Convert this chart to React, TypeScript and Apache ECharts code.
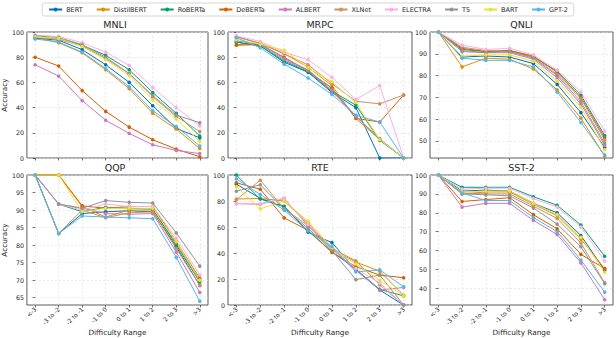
import React, { useEffect, useRef } from "react";
import * as echarts from "echarts";

const categories = ["<-3", "-3 to -2", "-2 to -1", "-1 to 0", "0 to 1", "1 to 2", "2 to 3", ">3"];
const models = ["BERT", "DistilBERT", "RoBERTa", "DeBERTa", "ALBERT", "XLNet", "ELECTRA", "T5", "BART", "GPT-2"];
const colors = ["#0173b2", "#de8f05", "#029e73", "#d55e00", "#cc78bc", "#ca9161", "#fbafe4", "#949494", "#ece133", "#56b4e9"];

// rows follow the order of `models`
const mnli = [
  [95, 93.5, 86, 74, 60, 41.5, 23.5, 16],
  [96, 91.5, 83.5, 70, 55, 35.5, 23, 7.5],
  [95.5, 95, 89.5, 81.5, 70, 52, 35.5, 17.5],
  [80, 73, 53.5, 37, 24.5, 14.5, 7, 1],
  [74, 65, 45.5, 30, 19.5, 10.5, 6, 3.5],
  [96, 94, 89, 79, 67, 48.5, 33, 21],
  [97.5, 96.5, 91.5, 84, 73.5, 56, 40, 25.5],
  [97, 95.5, 90, 80, 67, 49.5, 34, 28],
  [96, 95, 88.5, 78, 65.5, 46, 31, 13],
  [94.5, 92, 84, 71, 56.5, 37.5, 25, 9.5],
];
const mrpc = [
  [92, 89, 76, 68, 52, 40, 0, 0],
  [90, 91, 83, 72, 57.5, 31.5, 14.5, 0],
  [92, 89, 77, 68.5, 53, 42, 14, 0],
  [89.5, 90, 80, 69, 55.5, 31.5, 28.5, 50],
  [96, 91, 79, 70, 54, 33, 15, 0],
  [96.5, 91, 82.5, 74, 59, 45, 43, 50],
  [97, 92.5, 84, 78, 64, 46.5, 57.5, 0],
  [93, 90, 78, 69.5, 53, 33.5, 15, 0],
  [94, 90.5, 85.5, 71.5, 60.5, 44, 14.5, 0],
  [95.5, 87.5, 74.5, 63.5, 50.5, 34, 28.5, 0],
];
const qnli = [
  [100, 88.5, 89, 88.5, 85.5, 76, 63, 47],
  [100, 84, 88, 87.5, 83, 73.5, 60.5, 43],
  [100, 92, 91, 91.5, 88.5, 82, 71, 52.5],
  [100, 92.5, 91, 91.5, 89, 81.5, 70, 51.5],
  [100, 91, 90.5, 90.5, 87.5, 79, 67, 48],
  [100, 93, 91.5, 91, 88.5, 80.5, 69.5, 50.5],
  [100, 94, 92, 92.5, 89.5, 82.5, 72.5, 54.5],
  [100, 91.5, 90.5, 91, 88, 80, 68, 49],
  [100, 89, 89.5, 89.5, 86.5, 77.5, 65.5, 46],
  [100, 88, 87, 87, 84, 72.5, 58.5, 43.5],
];
const qqp = [
  [100, 83.3, 89, 89.5, 89.8, 89.5, 79.5, 68.5],
  [100, 100, 91, 88, 90, 90, 80.5, 70],
  [100, 91.7, 89.5, 90.8, 90.5, 90.3, 80, 69.5],
  [100, 100, 91.2, 90.5, 91, 91, 81, 70.5],
  [100, 91.7, 90.5, 89, 88.8, 89, 78, 66.5],
  [100, 83.3, 90, 87.8, 89.2, 89.5, 79, 68.5],
  [100, 91.7, 90, 91.7, 91, 91, 82, 71.5],
  [100, 91.7, 90.5, 92.7, 92.2, 92, 83.5, 74],
  [100, 100, 89.5, 90.5, 90.5, 90.5, 81, 70],
  [100, 83.3, 88.3, 88, 87.8, 87.5, 76.5, 64],
];
const rte = [
  [93, 82, 76, 56, 48, 27, 11.5, 0],
  [81.5, 82, 80, 63, 43, 33, 26, 7.5],
  [100, 81.5, 75.5, 57, 41, 27.5, 12, 7],
  [94, 89, 67, 57.5, 40.5, 29.5, 23, 21],
  [78, 77.5, 82, 61, 43, 27, 11.5, 13.5],
  [81, 96, 74, 61, 43.5, 34, 15.5, 0],
  [78, 78, 82, 62, 45, 28, 17, 0],
  [87.5, 92.5, 74, 59, 42, 19.5, 23, 0],
  [91, 74, 80, 64.5, 44, 31.5, 19, 7],
  [97, 85, 73, 57, 45, 25.5, 27, 14],
];
const sst2 = [
  [100, 91.5, 92, 91.5, 85, 80, 68, 49.5],
  [100, 90, 91, 91, 84.5, 78.5, 66, 50.5],
  [100, 93.5, 93.5, 93.5, 88.5, 84, 73.5, 57],
  [100, 86, 87, 88, 79, 71.5, 58, 50.5],
  [100, 83, 85, 85, 76, 68.5, 53.5, 34],
  [100, 90.5, 90, 90, 83.5, 77, 64, 43],
  [100, 92.5, 93, 93, 87.5, 83, 72.5, 54.5],
  [100, 90, 89.5, 89, 82.5, 74, 62, 42.5],
  [100, 91, 91.5, 91.5, 85, 79, 67, 48.5],
  [100, 90.5, 86.5, 86.5, 77.5, 70, 55, 38],
];

const ticks0to100 = [0, 20, 40, 60, 80, 100];
const qnliTicks = [50, 60, 70, 80, 90, 100];
const qqpTicks = [65, 70, 75, 80, 85, 90, 95, 100];
const sst2Ticks = [40, 50, 60, 70, 80, 90, 100];

const panels = [
  { name: "MNLI", data: mnli, min: 0, max: 100, ticks: ticks0to100, step: 20, row: 0, col: 0 },
  { name: "MRPC", data: mrpc, min: 0, max: 100, ticks: ticks0to100, step: 20, row: 0, col: 1 },
  { name: "QNLI", data: qnli, min: 42.2, max: 100, ticks: qnliTicks, step: 10, row: 0, col: 2 },
  { name: "QQP", data: qqp, min: 62.9, max: 100, ticks: qqpTicks, step: 5, row: 1, col: 0 },
  { name: "RTE", data: rte, min: 0, max: 100, ticks: ticks0to100, step: 20, row: 1, col: 1 },
  { name: "SST-2", data: sst2, min: 31.2, max: 100, ticks: sst2Ticks, step: 10, row: 1, col: 2 },
];

const cols = [
  { left: 22, width: 186 },
  { left: 228, width: 184 },
  { left: 430, width: 183 },
];
const rows = [
  { top: 32, height: 126 },
  { top: 175, height: 130 },
];

const FONT = "DejaVu Sans";
const TXT = "#262626";

export default function App() {
  const ref = useRef<HTMLDivElement>(null);
  useEffect(() => {
    if (!ref.current) return;
    const chart = echarts.init(ref.current, null, { renderer: "svg" });
    const grids: any[] = [];
    const xAxes: any[] = [];
    const yAxes: any[] = [];
    const titles: any[] = [];
    const series: any[] = [];
    panels.forEach((p, pi) => {
      const c = cols[p.col];
      const r = rows[p.row];
      grids.push({
        left: c.left,
        top: r.top,
        width: c.width,
        height: r.height,
        show: true,
        borderColor: "#333",
        borderWidth: 0.8,
        backgroundColor: "transparent",
      });
      titles.push({
        text: p.name,
        left: c.left + c.width / 2,
        top: r.top - 12.5,
        padding: 0,
        textAlign: "center",
        textStyle: { fontFamily: FONT, fontSize: 9.5, fontWeight: "normal", color: TXT },
      });
      xAxes.push({
        type: "value",
        gridIndex: pi,
        min: -0.35,
        max: 7.35,
        minInterval: 1,
        maxInterval: 1,
        name: p.row === 1 ? "Difficulty Range" : "",
        nameLocation: "middle",
        nameGap: 20,
        nameTextStyle: { fontFamily: FONT, fontSize: 7.3, color: TXT },
        axisLine: { show: false },
        axisTick: { show: true, length: 2.5, lineStyle: { color: "#333", width: 0.7 }, customValues: [0, 1, 2, 3, 4, 5, 6, 7] },
        axisLabel: {
          show: p.row === 1,
          customValues: [0, 1, 2, 3, 4, 5, 6, 7],
          formatter: (v: number) => categories[Math.round(v)] ?? "",
          rotate: 45,
          fontFamily: FONT,
          fontSize: 6,
          color: TXT,
          margin: 3,
        },
        splitLine: { show: true, lineStyle: { color: "#dcdcdc", type: [2, 2], width: 0.6 } },
      });
      yAxes.push({
        type: "value",
        gridIndex: pi,
        min: p.min,
        max: p.max,
        minInterval: p.step,
        maxInterval: p.step,
        name: p.col === 0 ? "Accuracy" : "",
        nameLocation: "middle",
        nameGap: 12,
        nameTextStyle: { fontFamily: FONT, fontSize: 7.3, color: TXT },
        axisLine: { show: false },
        axisTick: { show: true, length: 2.5, lineStyle: { color: "#333", width: 0.7 }, customValues: p.ticks },
        axisLabel: {
          customValues: p.ticks,
          fontFamily: FONT,
          fontSize: 6.3,
          color: TXT,
          margin: 3,
        },
        splitLine: { show: true, lineStyle: { color: "#dcdcdc", type: [2, 2], width: 0.6 } },
      });
      p.data.forEach((vals, mi) => {
        series.push({
          type: "line",
          name: models[mi],
          xAxisIndex: pi,
          yAxisIndex: pi,
          data: vals.map((v, i) => [i, v]),
          symbol: "circle",
          symbolSize: 3.6,
          showSymbol: true,
          color: colors[mi],
          lineStyle: { width: 1, color: colors[mi] },
          itemStyle: { color: colors[mi] },
          emphasis: { disabled: true },
        });
      });
    });
    chart.setOption({
      animation: false,
      backgroundColor: "#ffffff",
      title: titles,
      legend: {
        data: models,
        top: 3,
        left: "center",
        orient: "horizontal",
        itemGap: 13,
        itemWidth: 13,
        itemHeight: 5,
        padding: [3, 6],
        borderColor: "#cccccc",
        borderWidth: 0.8,
        borderRadius: 2,
        textStyle: { fontFamily: FONT, fontSize: 6.5, color: TXT, padding: [0, 0, 0, -1] },
      },
      grid: grids,
      xAxis: xAxes,
      yAxis: yAxes,
      series,
    });
    return () => chart.dispose();
  }, []);
  return <div ref={ref} style={{ position: "fixed", left: 0, top: 0, width: 616, height: 338 }} />;
}
